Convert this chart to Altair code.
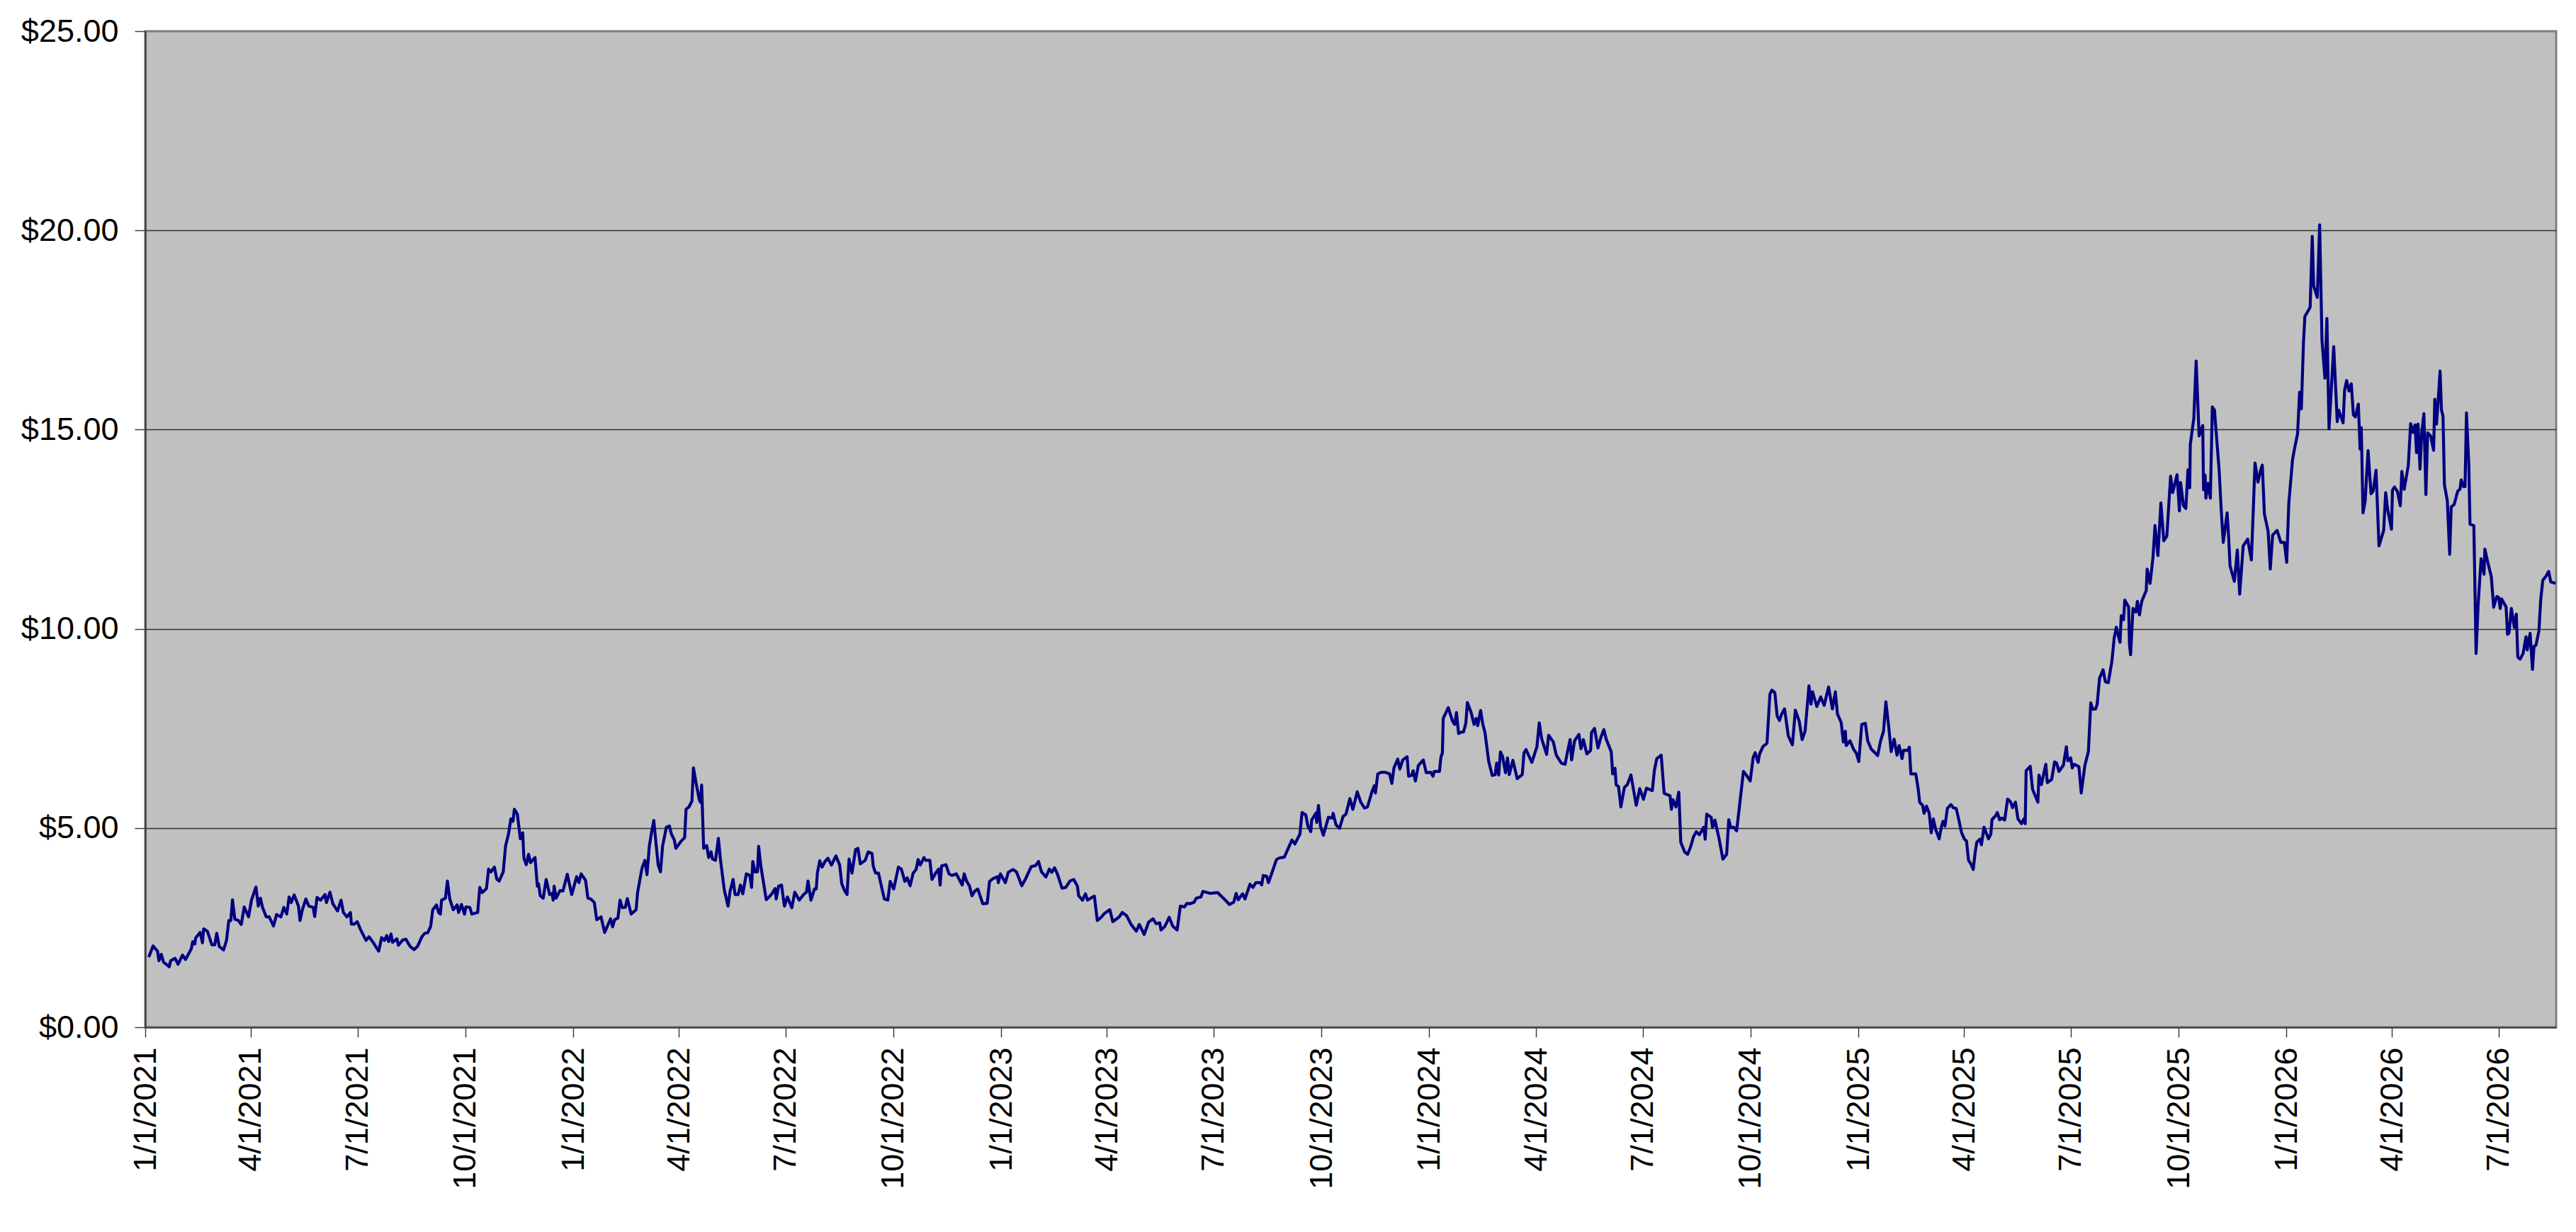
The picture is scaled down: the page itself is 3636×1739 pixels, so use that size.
import altair as alt
import pandas as pd

# Day offset from 1/1/2021 and closing price
day = [
    3, 6.7, 10.5, 11.7, 13.7, 15.5, 20.5, 21.7, 25.5, 28, 31.8, 34.3, 39.3, 40.5, 42.3, 43, 46.8, 48.8, 49.8, 53,
    56.8, 59.3, 61, 63.1, 66.8, 69.3, 71.3, 73, 74.4, 76.4, 79.4, 81.9, 84.4, 88.1, 90.6, 94.4, 96.4, 98.2, 100, 103.2,
    105.7, 109.4, 112, 115.7, 118.2, 120.7, 122.7, 124.5, 127, 130.7, 132, 134, 137, 139.5, 143.2, 144.5, 146.5, 149.5, 153.3, 154.5,
    157.5, 160, 164, 167, 169, 172, 175, 175.8, 178.3, 180.8, 183.3, 188.3, 190.8, 194.6, 199.1, 201.6, 204.1, 205.9, 207.6, 209.6,
    210.9, 214.6, 215.9, 219.6, 222.2, 225.9, 229.2, 232.2, 235.9, 238.4, 240.9, 243.4, 245.2, 248.4, 250.2, 251.7, 252.7, 256, 257.7, 259.7,
    262.7, 266, 267.2, 269.7, 272.3, 273.5, 276.8, 278.5, 283.5, 285.3, 287.3, 291, 292.8, 294.8, 297.8, 299.8, 301.8, 305.3, 307.3, 309.8,
    311.8, 313.6, 314.8, 317.3, 319.9, 321.9, 322.9, 324.9, 326.9, 328.6, 332.4, 334.4, 335.4, 336.9, 339.4, 341.9, 344.9, 346.9, 347.9, 348.7,
    350.4, 353.7, 356.2, 359.9, 363.7, 367.9, 369.9, 371.7, 375.5, 377.5, 380, 383, 385, 388.7,
    391.8, 396.8, 398.6, 400.3, 403.1, 404.9, 406.9, 409.4, 411.1, 414.4, 418.6, 419.9, 423.6, 426.1, 427.9, 429.9, 431.9, 433.7, 435.4, 437.4,
    439.4, 441.2, 444.4, 447, 448.7, 451.2, 452.5, 455.5, 457, 460, 461.2, 463.7, 466.2, 467.5, 470, 472.5, 473.5, 474.5, 476.2, 478.8,
    480.5, 482.5, 483.8, 486.3, 488.8, 490.5, 493.8, 497, 498.8, 501.3, 503, 505.6, 507.6, 509.6, 512.6, 515.6, 517.1, 518.1, 520.1, 522.1,
    523.1, 525.1, 527.1, 529.6, 532.1, 534.6, 537.1, 538.1, 540.1, 542.6, 545.1, 547.6, 551.4, 553.9, 557.7, 561.4, 563.9, 565.2, 567.7, 570.7,
    572.2, 573.2, 575.2, 577.2, 579.7, 582.2, 585.2, 589, 592.2, 594, 596.5, 598.5, 600.2, 602.7, 605.8, 607.8, 609.8, 614, 616.5, 619.8,
    620.8, 622.8, 625.3, 627.8, 630.3, 633.3, 635.3, 638.3, 642.3, 644.8, 647.8, 649.8, 652.3, 654.9, 657.4, 659.1, 660.9, 664.1, 665.4, 669.1,
    670.9, 674.1, 676.6, 677.9, 679.1, 682.9, 685.4, 687.9, 691.7, 696.7, 698.4, 700.4, 703, 705, 707.5, 710, 714.2, 718, 720, 723,
    726.8, 727.5, 729.3, 733.5, 736, 740, 743, 747.5, 750.5, 755.5, 759.3, 761.8, 764.3, 768.1,
    771, 773, 775.5, 778, 781.8, 785, 788.6, 791.8, 795, 796, 799.3, 801.8, 803.6, 806.8, 809.4, 811.9, 815.1, 818.1, 822.6, 825.1,
    830.6, 833.2, 836.9, 840.7, 845.2, 847.7, 851.9, 855.7, 859.5, 862, 865.2, 866.2, 869.5, 873.2, 876.2, 880, 882.7, 886.3, 888.3, 890.8,
    894.5, 896.3, 900.3, 902, 908.3, 914.6, 918.3, 922.1, 924.6, 928.3, 930.3, 932.1, 935.9, 937.9, 942.1, 944.6, 947.1, 950.9, 952.1, 953.4,
    956.4, 957.9, 960.4, 964.7, 967.2, 971.4, 972.9, 977.9, 980.4, 984.7, 986.5, 989.7, 991.5, 994, 994.7, 998.5, 999, 1000.5, 1002.2, 1004.7,
    1009, 1012.3, 1013, 1015.5, 1018.5, 1021.5, 1024, 1027.3, 1029.8, 1033.6, 1036.6, 1039.8, 1042.3, 1046.1, 1048.1, 1049.1, 1051.1, 1054.1, 1057.3, 1061.1,
    1063.1, 1064.9, 1068.1, 1069.9, 1072.4, 1076.1, 1077.4, 1079.9, 1081.2, 1083.2, 1085.7, 1089.9, 1092.4, 1096.2, 1098.2, 1099.2, 1103.7, 1104.9, 1106.2, 1106.9,
    1111.2, 1114.9, 1116.7, 1118.2, 1120, 1122.5, 1124.2, 1126.2, 1127.5, 1130.7, 1133.2, 1135, 1136.3, 1138.8,
    1140.7, 1142.5, 1145.7, 1148.7, 1151.2, 1152.5, 1154.2, 1155.7, 1157.5, 1160, 1161.7, 1163.2, 1166.3, 1170, 1174.3, 1175.8, 1177.5, 1182.5, 1186.8, 1188.8,
    1190.8, 1195.1, 1196.8, 1200.8, 1203.3, 1207.6, 1210.8, 1212.6, 1215.1, 1216.4, 1218.9, 1222.6, 1224.4, 1226.4, 1229.4, 1232.6, 1233.4, 1235.9, 1238.9, 1241.4,
    1243.9, 1245.9, 1250.2, 1251.4, 1253.4, 1254.4, 1256.4, 1258.4, 1261.4, 1263.9, 1267, 1271.5, 1274.5, 1277.7, 1280.2, 1285.2, 1287, 1289, 1292.8, 1295.3,
    1300.3, 1301.5, 1302.8, 1305.3, 1307.8, 1309.5, 1312.8, 1315.3, 1317.8, 1320.3, 1322.8, 1325.3, 1329.1, 1330.3, 1331.6, 1335.4, 1336.6, 1338.6, 1342.1, 1345.4,
    1348.6, 1350.4, 1352.1, 1354.6, 1357.1, 1359.6, 1362.9, 1365.4, 1368.7, 1371.2, 1372.9, 1375.4, 1376.7, 1379.7, 1383, 1385.5, 1387.2, 1389.7, 1391.7, 1393.7,
    1395.5, 1398, 1401.2, 1404.7, 1407.2, 1410.5, 1413, 1415.5, 1418.8, 1420.5, 1421.8, 1425.5, 1428.8, 1431.8, 1435.5, 1438.8, 1441.3, 1443.1, 1446.3, 1448.1,
    1449.8, 1450.6, 1453.8, 1456.8, 1459.3, 1461.3, 1463.8, 1466.9, 1468.9, 1471.9, 1474.4, 1477.4, 1479.9, 1482.4, 1484.4, 1486.9, 1488.9, 1491.4, 1493.9, 1495.7,
    1498.2, 1499.4, 1503.2, 1504.4, 1505.7, 1509.9, 1512, 1513.2, 1515.7, 1517, 1519,
    1521.3, 1523.1, 1524.8, 1526.8, 1529.8, 1531.8, 1533.1, 1534.8, 1536.8, 1539.8, 1541.8, 1544.4, 1546.4, 1548.9, 1551.4, 1553.1, 1554.9, 1556.9, 1558.9, 1560.6,
    1561.9, 1564.4, 1565.9, 1568.1, 1571.9, 1573.9, 1574.9, 1578.2, 1579.4, 1581.4, 1583.2, 1585.7, 1588.2, 1590.7, 1592.4, 1594.9, 1597, 1600, 1602, 1603.2,
    1604, 1607.5, 1609.5, 1614, 1615, 1617, 1620.8, 1622, 1625.8, 1628.3, 1630, 1632, 1635.8, 1638.3, 1639.5, 1642, 1643.3, 1645, 1649, 1651,
    1654.1, 1657.1, 1659.1, 1660.8, 1663.3, 1664.6, 1666.6, 1669.6, 1671.6, 1674.1, 1677.1, 1679.1, 1680.9, 1682.1, 1684.1,
    1685.1, 1687.1, 1688.1, 1691.4, 1692.1, 1693.1, 1695.1, 1697.6, 1698.9, 1700.6, 1702.6, 1705.1, 1706.4, 1707.2, 1709.7, 1712.2, 1713.9, 1716.4, 1718.9, 1721.4,
    1724, 1727.2, 1729, 1732.7, 1734.7, 1735.7, 1738.2, 1740.2,
    1742, 1743.5, 1744, 1747, 1749, 1751.5, 1754.6, 1755.3, 1756.6, 1757.3, 1759.1, 1761.1, 1762.8, 1764.6, 1768.6, 1770.3, 1772.1, 1775.4, 1776.6, 1777.9,
    1781.6, 1784.1, 1786.1, 1789.1, 1792.9, 1796.1, 1799.2, 1801.7, 1803.7, 1805.4, 1807.2, 1810.4, 1812.2, 1814.2, 1818, 1821.2, 1824.2, 1826.2, 1828, 1831.2,
    1833, 1835.5, 1837.2, 1838.7,
    1840.5, 1841.7, 1843.7, 1846.2, 1848, 1849.2, 1852.3, 1854.3, 1856.3, 1858.8, 1860.5, 1862.3, 1866.3, 1869.3, 1870.5, 1874.3, 1875.6, 1877.3, 1879.3, 1881.3,
    1883.1, 1884.8, 1887.3, 1888.8, 1889.8,
    1891.3, 1893.1, 1895.6, 1898.1, 1899.9, 1902.4, 1904.9, 1908.9, 1910.6, 1912.4, 1915.6, 1916.4, 1918.1, 1920.6, 1923.1, 1924.4, 1926.4, 1929.9, 1931.9, 1933.9,
    1935.7, 1936.9, 1938.2, 1939.9, 1941.4, 1943.2, 1944.9, 1946.4, 1949, 1951.5, 1952.5, 1954, 1955.7, 1957, 1958.2, 1959.5, 1960.7, 1963.2, 1965.2, 1966.5,
    1969, 1972, 1974, 1975, 1977, 1978.3, 1979.5, 1981.5, 1982.5, 1985.8,
    1987.7, 1989.5, 1992, 1994.5, 1995.2, 1997.7, 2000.7, 2002.7, 2005.3, 2007, 2008.3, 2009.5, 2013.3, 2014.5, 2015.8, 2017.8, 2020.3, 2022, 2023.3, 2025.3,
    2027.8, 2030.3, 2031.3, 2033.8, 2035.8, 2037.1, 2038.8, 2041.3, 2042.8, 2044.6, 2047.1, 2049.6, 2051.4, 2055.4,
]

price = [
    1.76, 2.04, 1.91, 1.67, 1.83, 1.64, 1.52, 1.67, 1.73, 1.58, 1.81, 1.70, 1.97, 2.15, 2.09, 2.24, 2.38, 2.12, 2.47, 2.41,
    2.07, 2.07, 2.36, 2.03, 1.94, 2.18, 2.68, 2.68, 3.20, 2.71, 2.68, 2.58, 3.02, 2.77, 3.19, 3.52, 3.04, 3.24, 3.01, 2.77,
    2.77, 2.54, 2.83, 2.77, 3.01, 2.84, 3.27, 3.13, 3.32, 3.04, 2.68, 2.95, 3.22, 3.04, 3.01, 2.78, 3.26, 3.19, 3.33, 3.13,
    3.39, 3.10, 2.92, 3.19, 2.88, 2.77, 2.88, 2.59, 2.59, 2.65, 2.47, 2.18, 2.27, 2.12, 1.91, 2.25, 2.18, 2.30, 2.15, 2.34,
    2.13, 2.22, 2.06, 2.19, 2.21, 2.03, 1.95, 2.03, 2.27, 2.36, 2.37, 2.53, 2.95, 3.07, 2.88, 2.84, 3.19, 3.24, 3.67, 3.22,
    2.95, 3.07, 2.88, 3.08, 2.84, 3.02, 3.01, 2.84, 2.88, 3.51, 3.38, 3.48, 3.97, 3.90, 4.02, 3.72, 3.67, 3.90, 4.55, 4.85,
    5.23, 5.17, 5.47, 5.35, 4.73, 4.88, 4.25, 4.08, 4.34, 4.13, 4.26, 3.54, 3.60, 3.30, 3.24, 3.71, 3.33, 3.36, 3.19, 3.54,
    3.24, 3.43, 3.42, 3.84, 3.33, 3.78, 3.63, 3.85, 3.69, 3.24, 3.22, 3.13, 2.70, 2.77,
    2.38, 2.72, 2.52, 2.70, 2.74, 3.19, 3.00, 3.01, 3.23, 2.84, 2.95, 3.39, 3.99, 4.19, 3.83, 4.55, 4.91, 5.19, 4.67, 4.08,
    3.90, 4.55, 5.02, 5.05, 4.85, 4.70, 4.49, 4.61, 4.67, 4.76, 5.47, 5.53, 5.68, 6.51, 6.09, 5.71, 5.65, 6.08, 4.49, 4.56,
    4.26, 4.40, 4.22, 4.19, 4.74, 4.22, 3.45, 3.04, 3.42, 3.71, 3.33, 3.33, 3.57, 3.35, 3.85, 3.81, 3.51, 4.16, 3.90, 3.90,
    4.54, 4.02, 3.66, 3.20, 3.27, 3.36, 3.48, 3.22, 3.54, 3.57, 3.04, 3.27, 3.00, 3.39, 3.19, 3.33, 3.39, 3.67, 3.19, 3.47,
    3.47, 3.87, 4.18, 4.02, 4.16, 4.24, 4.07, 4.30, 4.07, 3.60, 3.42, 3.33, 4.22, 3.87, 4.46, 4.49, 4.10, 4.19, 4.40, 4.36,
    4.05, 3.87, 3.87, 3.54, 3.22, 3.19, 3.66, 3.47, 4.02, 3.97, 3.66, 3.75, 3.55, 3.87, 3.96, 4.21, 4.07, 4.26, 4.19, 4.19,
    3.71, 3.87, 3.97, 3.57, 4.05, 4.08, 3.85, 3.81, 3.85, 3.57, 3.85, 3.67, 3.54, 3.30, 3.42, 3.47, 3.10, 3.11, 3.66, 3.73,
    3.78, 3.63, 3.85, 3.63, 3.89, 3.96, 3.90, 3.55, 3.71, 4.03, 4.06, 4.16, 3.90, 3.77,
    3.97, 3.89, 4.00, 3.84, 3.49, 3.51, 3.67, 3.71, 3.54, 3.30, 3.19, 3.35, 3.19, 3.25, 3.29, 2.68, 2.76, 2.86, 2.95, 2.65,
    2.77, 2.88, 2.80, 2.58, 2.41, 2.58, 2.33, 2.64, 2.72, 2.60, 2.62, 2.44, 2.53, 2.76, 2.54, 2.44, 3.04, 3.02, 3.11, 3.10,
    3.14, 3.24, 3.27, 3.41, 3.36, 3.38, 3.27, 3.16, 3.08, 3.14, 3.36, 3.20, 3.35, 3.22, 3.59, 3.51, 3.63, 3.63, 3.57, 3.81,
    3.79, 3.63, 3.84, 4.21, 4.25, 4.27, 4.37, 4.70, 4.60, 4.85, 5.39, 5.33, 5.05, 4.91, 5.20, 5.38, 5.14, 5.57, 5.05, 4.82,
    5.27, 5.25, 5.37, 5.08, 4.99, 5.29, 5.35, 5.74, 5.47, 5.91, 5.65, 5.50, 5.53, 5.91, 6.06, 5.88, 6.36, 6.40, 6.40, 6.36,
    6.12, 6.51, 6.73, 6.48, 6.71, 6.79, 6.30, 6.32, 6.44, 6.18, 6.57, 6.71, 6.39, 6.40, 6.30, 6.42, 6.42, 6.77, 6.89, 7.75,
    8.02, 7.68, 7.60, 7.90, 7.37, 7.41, 7.41, 7.63, 8.15, 7.90, 7.60, 7.75, 7.57, 7.95,
    7.60, 7.40, 6.67, 6.32, 6.34, 6.63, 6.33, 6.91, 6.80, 6.39, 6.76, 6.34, 6.70, 6.24, 6.34, 6.89, 6.97, 6.65, 7.04, 7.64,
    7.25, 6.85, 7.33, 7.16, 6.83, 6.63, 6.60, 6.87, 7.22, 6.71, 7.19, 7.35, 6.99, 7.22, 6.86, 6.95, 7.40, 7.50, 7.01, 7.28,
    7.47, 7.23, 6.91, 6.36, 6.50, 6.08, 6.04, 5.53, 6.02, 6.09, 6.33, 5.57, 5.99, 5.72, 6.00, 5.94, 6.45, 6.74, 6.83, 5.87,
    5.81, 5.47, 5.71, 5.53, 5.90, 4.64, 4.40, 4.34, 4.52, 4.78, 4.91, 4.83, 5.02, 4.72, 5.35, 5.27, 5.01, 5.20, 4.74, 4.22,
    4.34, 5.21, 5.01, 5.02, 4.93, 5.56, 6.42, 6.33, 6.18, 6.77, 6.89, 6.65, 6.86, 7.05, 7.13, 8.36, 8.46, 8.40, 7.81, 7.70,
    7.86, 7.99, 7.31, 7.09, 7.96, 7.68, 7.22, 7.43, 8.57, 8.11, 8.42, 8.05, 8.29, 8.08, 8.54, 7.99, 8.42, 7.86, 7.65, 7.16,
    7.43, 7.07, 7.19, 6.98, 6.87, 6.67, 7.60, 7.63, 7.19, 6.98, 6.91, 6.82, 7.19, 7.43, 8.17, 7.52, 6.92, 7.23, 6.83, 7.07,
    6.74, 6.95, 6.95, 7.03, 6.36, 6.36, 5.97, 5.65, 5.57, 5.37, 5.55,
    5.38, 4.88, 5.23, 4.97, 4.73, 5.04, 5.17, 5.05, 5.49, 5.59, 5.51, 5.49, 5.23, 4.89, 4.72, 4.68, 4.19, 4.10, 3.96, 4.40,
    4.64, 4.72, 4.58, 5.02, 4.73, 4.85, 5.21, 5.32, 5.39, 5.21, 5.25, 5.20, 5.73, 5.66, 5.51, 5.65, 5.23, 5.11, 5.23, 5.11,
    6.44, 6.55, 5.97, 5.65, 6.33, 6.09, 6.60, 6.14, 6.22, 6.66, 6.63, 6.42, 6.58, 7.04, 6.69, 6.76, 6.51, 6.60, 6.54, 5.88,
    6.57, 6.92, 8.14, 7.98, 7.99, 8.11, 8.76, 8.97, 8.67, 8.65, 9.18, 9.77, 10.04, 9.89, 9.66,
    10.33, 10.23, 10.72, 10.55, 9.62, 9.35, 10.51, 10.42, 10.69, 10.35, 10.69, 10.87, 10.95, 11.50, 11.14, 11.80, 12.59, 11.84, 13.16, 12.21,
    12.33, 13.83, 13.42, 13.87, 12.96, 13.67, 13.09, 13.02,
    13.99, 13.54, 14.63, 15.28, 16.72, 14.84, 15.10, 13.49, 13.86, 13.28, 13.65, 13.28, 15.57, 15.49, 13.98, 13.02, 12.17, 12.91, 12.35, 11.58,
    11.19, 11.98, 10.87, 12.08, 12.25, 11.73, 14.16, 13.68, 13.95, 14.11, 12.88, 12.44, 11.50, 12.35, 12.47, 12.17, 12.17, 11.67, 13.15, 14.25,
    14.54, 14.90, 15.94, 15.52,
    17.18, 17.84, 17.94, 18.07, 19.85, 18.61, 18.32, 20.14, 17.24, 16.29, 17.79, 15.02, 17.08, 15.20, 15.49, 15.17, 15.99, 16.23, 15.97, 16.15,
    15.37, 15.32, 15.64, 14.51, 15.05,
    12.91, 13.21, 14.47, 13.39, 13.45, 13.98, 12.08, 12.47, 13.42, 12.98, 12.50, 13.48, 13.56, 13.45, 13.09, 13.95, 13.50, 14.10, 15.15, 14.93,
    15.12, 14.42, 15.14, 14.01, 14.93, 15.40, 13.37, 14.92, 14.84, 14.48, 15.76, 15.14, 15.88, 16.47, 15.49, 15.34, 13.62, 13.21, 11.87, 13.06,
    13.12, 13.45, 13.51, 13.74, 13.57, 13.57, 15.42, 14.13, 12.63, 12.59,
    9.38, 10.63, 11.76, 11.37, 12.00, 11.67, 11.31, 10.54, 10.81, 10.79, 10.51, 10.75, 10.55, 9.86, 9.90, 10.51, 10.04, 10.37, 9.29, 9.24,
    9.38, 9.80, 9.47, 9.89, 8.98, 9.56, 9.59, 9.95, 10.72, 11.22, 11.31, 11.44, 11.18, 11.14,
]

y_ticks = [0, 5, 10, 15, 20, 25]
x_tick_years = [2021, 2022, 2023, 2024, 2025, 2026]
x_tick_months = [1, 4, 7, 10]

start = pd.Timestamp("2021-01-01")
dates = (start + pd.to_timedelta(day, unit="D")).strftime("%Y-%m-%dT%H:%M:%SZ")
df = pd.DataFrame({"date": list(dates), "price": price})

tick_dates = [
    alt.DateTime(year=y, month=m, date=1, utc=True)
    for y in x_tick_years
    for m in x_tick_months
    if not (y == 2026 and m > 7)
]

FONT = "Liberation Sans"

chart = (
    alt.Chart(df)
    .mark_line(color="#000080", strokeWidth=4.2, strokeJoin="round")
    .encode(
        x=alt.X(
            "date:T",
            scale=alt.Scale(
                type="utc",
                domain=[
                    alt.DateTime(year=2021, month=1, date=1, utc=True),
                    alt.DateTime(year=2026, month=8, date=19, utc=True),
                ],
            ),
            axis=alt.Axis(
                title=None,
                values=tick_dates,
                labelExpr="utcFormat(datum.value, '%-m/%-d/%Y')",
                labelAngle=270,
                labelFont=FONT,
                labelFontSize=45,
                labelColor="#000000",
                labelPadding=14,
                labelLimit=0,
                labelOverlap=False,
                tickSize=14,
                tickColor="#404040",
                tickWidth=1.5,
                domainColor="#404040",
                domainWidth=2,
                grid=False,
            ),
        ),
        y=alt.Y(
            "price:Q",
            scale=alt.Scale(domain=[0, 25], nice=False),
            axis=alt.Axis(
                title=None,
                values=y_ticks,
                format="$.2f",
                labelFont=FONT,
                labelFontSize=45,
                labelColor="#000000",
                labelPadding=23,
                labelLimit=0,
                tickSize=15,
                tickColor="#404040",
                tickWidth=1.5,
                domainColor="#404040",
                domainWidth=2.5,
                grid=True,
                gridColor={"condition": {"test": "datum.value === 25", "value": "#808080"}, "value": "#333333"},
                gridWidth=1.6,
            ),
        ),
    )
    .properties(
        width=3403,
        height=1406,
        autosize=alt.AutoSizeParams(type="none"),
        padding={"left": 197, "top": 36, "right": 16, "bottom": 250},
        background="#FFFFFF",
    )
    .configure_view(fill="#C0C0C0", stroke="#808080", strokeWidth=3)
)

chart.save("out.html", embed_options={"renderer": "svg", "actions": False})
